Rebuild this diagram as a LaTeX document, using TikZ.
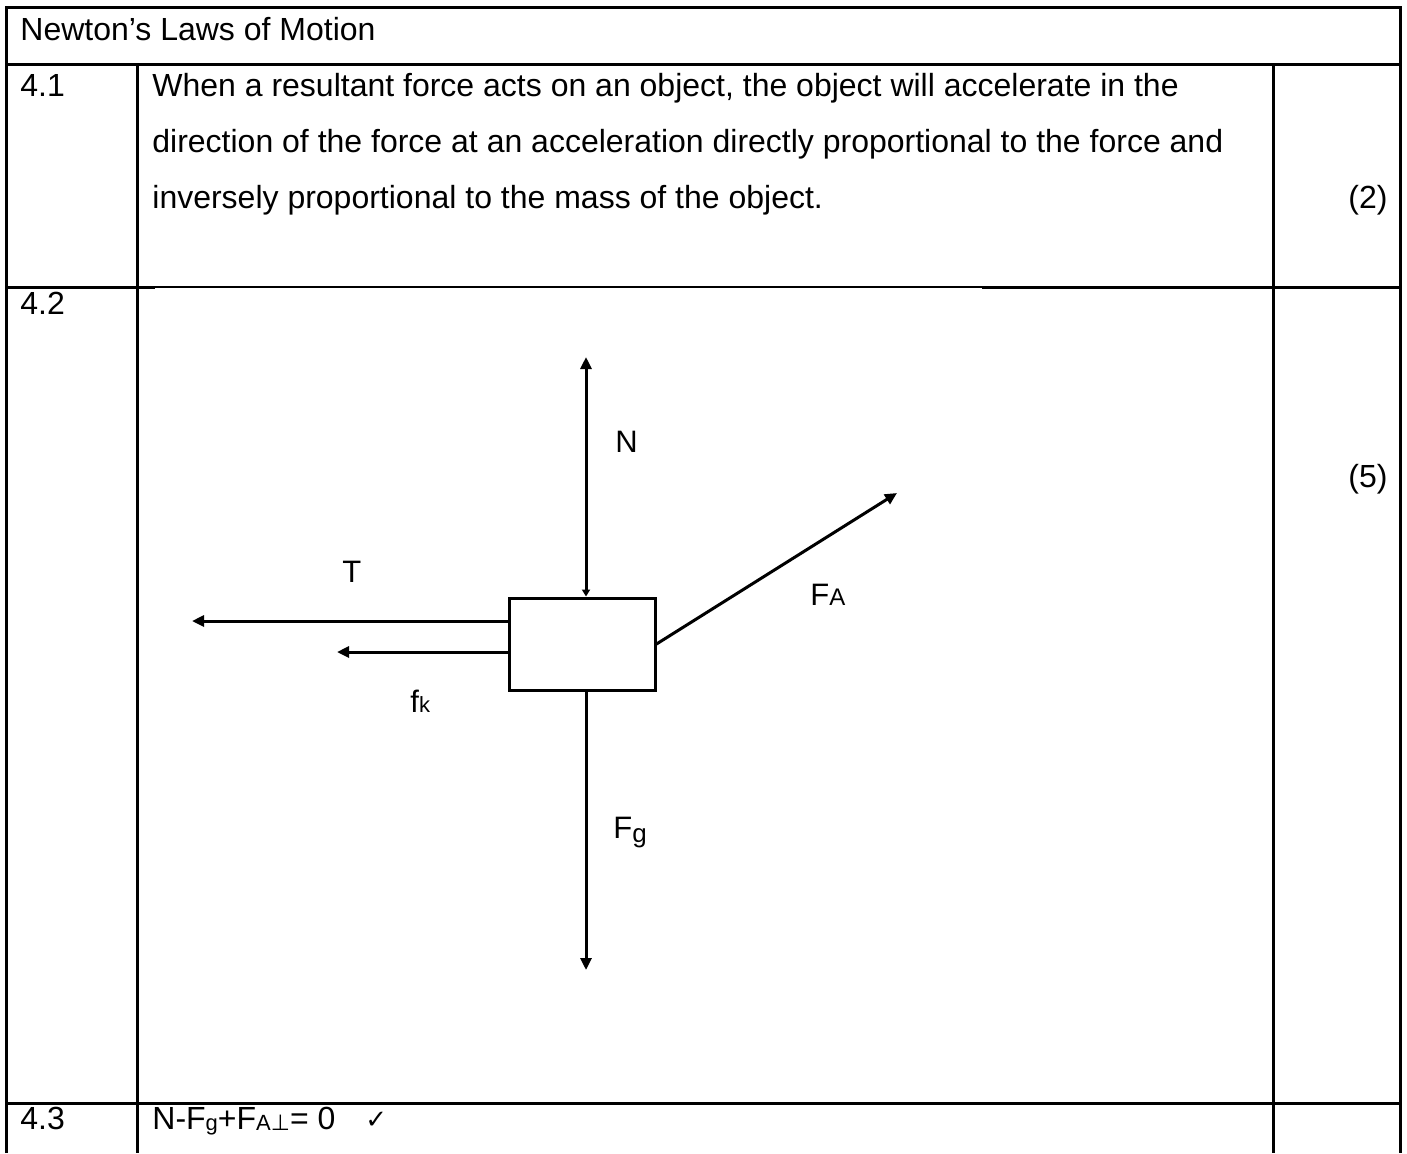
\documentclass[tikz,border=0pt]{standalone}
\usepackage{fontspec}
\setmainfont{Liberation Sans}
\newfontfamily\dejavu{DejaVu Sans}
\usetikzlibrary{arrows.meta}
\newcommand{\smalltxt}[1]{{\fontsize{11}{11}\selectfont #1}}
\begin{document}
\begin{tikzpicture}[x=0.5pt,y=-0.5pt,
  rule/.style={line width=1.5pt},
  thinrule/.style={line width=0.9pt},
  txt/.style={anchor=base west, inner sep=0pt, font=\fontsize{16}{18}\selectfont},
  lbl/.style={anchor=base west, inner sep=0pt, font=\fontsize{15.5}{18}\selectfont},
  force/.style={line width=1.5pt, -{Triangle[length=6pt,width=5.5pt]}},
  body/.style={draw, line width=1.5pt, minimum width=73pt, minimum height=46pt, inner sep=0pt}]
\useasboundingbox (0,0) rectangle (1407,1153);
% table rules
\draw[rule] (6,1153) -- (6,7) -- (1400,7) -- (1400,1153);
\draw[rule] (6,64) -- (1400,64);
\draw[rule] (137,64) -- (137,1153);
\draw[rule] (1273,64) -- (1273,1153);
\draw[rule] (6,287) -- (155,287);
\draw[thinrule] (155,287) -- (982,287);
\draw[rule] (982,287) -- (1400,287);
\draw[rule] (6,1103) -- (1400,1103);
% table text
\node[txt] (title) at (20,40) {Newton’s Laws of Motion};
\node[txt] (n41) at (20,96) {4.1};
\node[txt] (l1) at (152,96) {When a resultant force acts on an object, the object will accelerate in the};
\node[txt] (l2) at (152,152) {direction of the force at an acceleration directly proportional to the force and};
\node[txt] (l3) at (152,208) {inversely proportional to the mass of the object.};
\node[txt] (m2) at (1348,208) {(2)};
\node[txt] (n42) at (20,314) {4.2};
\node[txt] (m5) at (1348,487) {(5)};
\node[txt] (n43) at (20,1129) {4.3};
\node[txt] (eq) at (152,1129) {N-F\raisebox{-0.8pt}{\smalltxt{g}}+F\raisebox{-0.6pt}{\smalltxt{A{\dejavu ⊥}}}= 0\hspace{15pt}\raisebox{0.5pt}{\dejavu\fontsize{13}{13}\selectfont ✓}};
% free-body diagram
\node[body] (box) at (582,644) {};
\coordinate (ntip) at (586,357);
\coordinate (gtip) at (586,970);
\coordinate (ttip) at (192,621);
\coordinate (ktip) at (337,652);
\coordinate (atip) at (897,493);
\draw[force, {Triangle[length=3.5pt,width=4pt]}-{Triangle[length=6pt,width=5.5pt]}] (ntip |- box.north) -- (ntip);
\draw[force] (ttip -| box.west) -- (ttip);
\draw[force] (ktip -| box.west) -- (ktip);
\draw[force] (gtip |- box.south) -- (gtip);
\draw[force] (box.east) -- (atip);
% labels
\node[lbl] (nl) at (615,452) {N};
\node[lbl] (tl) at (342,582) {T};
\node[lbl] (kl) at (410,712) {f{\fontsize{11}{11}\selectfont k}};
\node[lbl] (gl) at (613,838) {F\raisebox{-2pt}{\fontsize{13}{13}\selectfont g}};
\node[lbl] (al) at (810,605) {F{\fontsize{12}{12}\selectfont A}};
\end{tikzpicture}
\end{document}
